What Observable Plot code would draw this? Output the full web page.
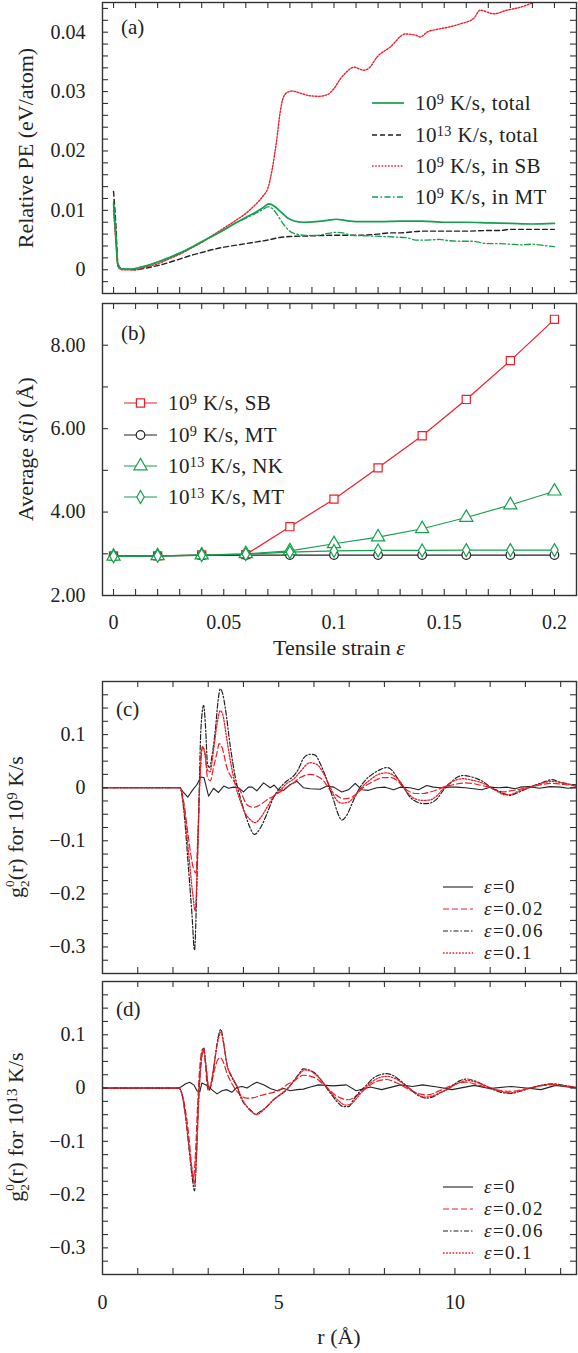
<!DOCTYPE html>
<html><head><meta charset="utf-8">
<script src="https://cdn.jsdelivr.net/npm/d3@7"></script>
<script src="https://cdn.jsdelivr.net/npm/@observablehq/plot@0.6"></script>
<style>
body{margin:0;background:#fff;}
#root{position:relative;width:578px;height:1353px;overflow:hidden;font-family:"Liberation Serif","Times New Roman",Times,"DejaVu Serif",serif;color:#222;}
.abs{position:absolute;white-space:nowrap;}
.ytitle{position:absolute;white-space:nowrap;transform:translate(-50%,-50%) rotate(-90deg);font-size:22px;line-height:24px;}
sup{font-size:0.68em;vertical-align:0.42em;line-height:0;}
.ss{display:inline-flex;flex-direction:column;font-size:0.6em;line-height:1.15;vertical-align:0.7em;}
</style></head><body><div id="root"></div>
<script>
// ---------------- panel (a): relative PE vs strain ----------------
const pe_total_1e9 = [[0,0.0112],[0.001,0.006],[0.002,0.0008],[0.004,0.0001],[0.008,0.0001],[0.012,0.0004],[0.016,0.0008],[0.02,0.0013],[0.025,0.002],[0.03,0.0028],[0.035,0.0037],[0.04,0.0047],[0.045,0.0057],[0.05,0.0067],[0.055,0.0078],[0.06,0.0088],[0.065,0.0098],[0.068,0.0105],[0.0705,0.0111],[0.073,0.0107],[0.076,0.0097],[0.079,0.0087],[0.082,0.0082],[0.086,0.0080],[0.092,0.0081],[0.097,0.0083],[0.101,0.0085],[0.105,0.0083],[0.11,0.0081],[0.12,0.0081],[0.13,0.0082],[0.14,0.0082],[0.15,0.0080],[0.16,0.0080],[0.17,0.0079],[0.18,0.0078],[0.19,0.0077],[0.2,0.0078]];
const pe_total_1e13 = [[0,0.0132],[0.001,0.008],[0.002,0.001],[0.004,0.0001],[0.01,0.0],[0.015,0.0003],[0.02,0.0007],[0.025,0.0012],[0.03,0.0018],[0.035,0.0024],[0.04,0.0029],[0.045,0.0034],[0.05,0.0038],[0.055,0.0041],[0.06,0.0044],[0.065,0.0047],[0.07,0.0050],[0.075,0.0054],[0.08,0.0056],[0.09,0.0057],[0.1,0.0058],[0.11,0.0058],[0.12,0.0060],[0.125,0.0062],[0.13,0.0062],[0.14,0.0065],[0.15,0.0065],[0.16,0.0065],[0.17,0.0066],[0.175,0.0066],[0.18,0.0068],[0.19,0.0068],[0.2,0.0068]];
const pe_sb_1e9 = [[0,0.0100],[0.001,0.005],[0.002,0.0005],[0.004,0.0],[0.01,0.0],[0.015,0.0005],[0.02,0.001],[0.025,0.0018],[0.03,0.0026],[0.035,0.0036],[0.04,0.0046],[0.045,0.0058],[0.05,0.0070],[0.055,0.0082],[0.06,0.0095],[0.065,0.0112],[0.068,0.0125],[0.070,0.0137],[0.072,0.0170],[0.074,0.0218],[0.0755,0.0263],[0.077,0.0290],[0.079,0.0299],[0.081,0.0301],[0.085,0.0297],[0.089,0.0293],[0.093,0.0292],[0.097,0.0295],[0.1,0.0305],[0.103,0.0322],[0.106,0.0334],[0.109,0.0341],[0.1135,0.0336],[0.116,0.0340],[0.1195,0.0358],[0.1255,0.0375],[0.1324,0.0397],[0.137,0.0395],[0.1392,0.0392],[0.1422,0.0400],[0.147,0.0405],[0.1512,0.0408],[0.1573,0.0414],[0.1633,0.0423],[0.1663,0.0437],[0.1724,0.0431],[0.1784,0.0437],[0.1845,0.0442],[0.1905,0.0450],[0.195,0.0456],[0.2,0.0462]];
const pe_mt_1e9 = [[0,0.0115],[0.001,0.006],[0.002,0.0008],[0.004,0.0001],[0.008,0.0001],[0.012,0.0004],[0.016,0.0008],[0.02,0.0013],[0.025,0.002],[0.03,0.0028],[0.035,0.0037],[0.04,0.0047],[0.045,0.0057],[0.05,0.0067],[0.055,0.0078],[0.06,0.0087],[0.065,0.0096],[0.068,0.0102],[0.070,0.0106],[0.072,0.0103],[0.074,0.0094],[0.077,0.0077],[0.080,0.0065],[0.083,0.0060],[0.087,0.0058],[0.092,0.0058],[0.097,0.0061],[0.101,0.0063],[0.104,0.0062],[0.108,0.0058],[0.115,0.0057],[0.122,0.0056],[0.128,0.0055],[0.133,0.0054],[0.137,0.0050],[0.142,0.0050],[0.148,0.0051],[0.152,0.0049],[0.158,0.0048],[0.163,0.0048],[0.166,0.0046],[0.17,0.0044],[0.175,0.0044],[0.18,0.0043],[0.185,0.0042],[0.19,0.0043],[0.195,0.0041],[0.2,0.0039]];

// ---------------- panel (b): average s(i) vs strain ----------------
const strain_b = [0, 0.02, 0.04, 0.06, 0.08, 0.1, 0.12, 0.14, 0.16, 0.18, 0.2];
const s_sb_1e9  = [2.95, 2.95, 2.97, 2.98, 3.65, 4.31, 5.06, 5.83, 6.70, 7.63, 8.62];
const s_mt_1e9  = [2.94, 2.95, 2.96, 2.97, 2.97, 2.97, 2.97, 2.97, 2.97, 2.97, 2.97];
const s_nk_1e13 = [2.94, 2.95, 2.97, 3.00, 3.07, 3.24, 3.40, 3.60, 3.87, 4.17, 4.50];
const s_mt_1e13 = [2.94, 2.95, 2.97, 2.99, 3.04, 3.07, 3.08, 3.08, 3.09, 3.09, 3.09];

// ---------------- panel (c): g2^0(r), 10^9 K/s ----------------
const c_eps0 = [[0,0],[2.2,0],[2.3,-0.009],[2.42,-0.018],[2.54,-0.006],[2.68,0.006],[2.79,0.020],[2.88,0.019],[3.01,-0.016],[3.15,-0.001],[3.29,-0.009],[3.44,0.003],[3.58,-0.001],[3.72,0.001],[3.86,0],[4.0,-0.008],[4.14,0.001],[4.25,0.001],[4.38,-0.006],[4.57,0.009],[4.76,0],[4.87,0.005],[4.99,-0.004],[5.14,-0.005],[5.33,0.006],[5.52,0.012],[5.70,0],[5.89,-0.002],[6.18,-0.003],[6.37,0.003],[6.56,0.001],[6.79,-0.008],[6.98,-0.004],[7.17,0.008],[7.36,-0.004],[7.55,-0.005],[7.78,0],[8.02,0.001],[8.26,-0.004],[8.45,0.001],[8.73,0],[8.97,-0.004],[9.20,0.004],[9.39,0.001],[9.58,0],[9.82,0.001],[10.05,0.001],[10.29,0],[10.53,-0.002],[10.76,-0.004],[11.0,0.001],[11.24,0],[11.47,0.001],[11.71,-0.002],[11.85,0.001],[12.1,0.002],[12.4,-0.001],[12.7,0.002],[13.0,0.001],[13.2,-0.001],[13.45,0]];
const c_eps002 = [[0,0],[2.2,0],[2.30,-0.025],[2.44,-0.095],[2.58,-0.152],[2.65,-0.161],[2.71,-0.082],[2.77,0.025],[2.84,0.076],[2.90,0.069],[2.98,0.019],[3.06,0.013],[3.15,0.038],[3.25,0.066],[3.31,0.083],[3.39,0.076],[3.53,0.038],[3.72,0.013],[3.91,-0.006],[4.10,-0.032],[4.29,-0.037],[4.48,-0.032],[4.66,-0.023],[4.85,-0.016],[5.04,-0.008],[5.23,0.001],[5.42,0.009],[5.61,0.019],[5.89,0.025],[6.08,0.022],[6.27,0.013],[6.46,-0.005],[6.65,-0.0145],[6.84,-0.021],[7.03,-0.019],[7.22,-0.011],[7.41,0.001],[7.60,0.009],[7.78,0.015],[7.97,0.019],[8.16,0.019],[8.35,0.014],[8.54,0.001],[8.73,-0.008],[8.92,-0.011],[9.11,-0.011],[9.30,-0.008],[9.49,-0.004],[9.67,0.001],[9.86,0.004],[10.05,0.007],[10.3,0.009],[10.5,0.008],[10.7,0.005],[10.9,0.002],[11.19,-0.005],[11.38,-0.008],[11.57,-0.006],[11.76,-0.004],[12.2,0.002],[12.75,0.008],[13.1,0.006],[13.45,0.003]];
const c_eps006 = [[0,0],[2.2,0],[2.30,-0.038],[2.44,-0.152],[2.54,-0.240],[2.61,-0.306],[2.68,-0.177],[2.73,-0.05],[2.79,0.107],[2.87,0.155],[2.93,0.107],[2.98,0.044],[3.04,0.038],[3.10,0.057],[3.20,0.107],[3.28,0.164],[3.34,0.186],[3.41,0.177],[3.48,0.152],[3.63,0.076],[3.77,0.019],[3.91,-0.019],[4.05,-0.050],[4.19,-0.076],[4.31,-0.088],[4.48,-0.076],[4.66,-0.050],[4.85,-0.019],[5.04,0],[5.23,0.0126],[5.42,0.022],[5.56,0.035],[5.70,0.055],[5.89,0.063],[6.04,0.061],[6.18,0.045],[6.37,0.014],[6.56,-0.024],[6.70,-0.052],[6.79,-0.061],[6.93,-0.052],[7.12,-0.024],[7.31,0.001],[7.50,0.017],[7.69,0.027],[7.88,0.034],[8.07,0.038],[8.21,0.033],[8.35,0.020],[8.54,0.001],[8.73,-0.018],[8.92,-0.027],[9.11,-0.030],[9.30,-0.029],[9.49,-0.021],[9.67,-0.005],[9.86,0.008],[10.05,0.019],[10.24,0.023],[10.43,0.021],[10.62,0.017],[10.81,0.011],[11.0,0.001],[11.19,-0.005],[11.38,-0.011],[11.57,-0.0145],[11.76,-0.010],[12.2,0.003],[12.5,0.010],[12.75,0.015],[13.0,0.010],[13.45,0.005]];
const c_eps01 = [[0,0],[2.2,0],[2.30,-0.03],[2.44,-0.12],[2.56,-0.20],[2.63,-0.232],[2.70,-0.12],[2.76,0.01],[2.84,0.078],[2.90,0.065],[2.98,0.033],[3.05,0.030],[3.15,0.070],[3.25,0.120],[3.34,0.145],[3.41,0.138],[3.53,0.090],[3.63,0.050],[3.77,0.005],[3.91,-0.025],[4.05,-0.048],[4.19,-0.060],[4.33,-0.066],[4.48,-0.057],[4.66,-0.038],[4.85,-0.017],[5.04,-0.005],[5.23,0.008],[5.42,0.016],[5.61,0.030],[5.89,0.047],[6.08,0.044],[6.27,0.027],[6.46,0.001],[6.65,-0.024],[6.79,-0.029],[6.98,-0.027],[7.17,-0.015],[7.36,0.001],[7.60,0.015],[7.83,0.025],[8.07,0.028],[8.26,0.023],[8.45,0.011],[8.64,-0.008],[8.87,-0.021],[9.11,-0.024],[9.30,-0.023],[9.49,-0.015],[9.67,-0.002],[9.86,0.009],[10.05,0.015],[10.24,0.017],[10.43,0.015],[10.62,0.012],[10.81,0.008],[11.0,0.001],[11.19,-0.006],[11.38,-0.013],[11.57,-0.013],[11.76,-0.008],[12.2,0.002],[12.75,0.012],[13.1,0.008],[13.45,0.003]];

// ---------------- panel (d): g2^0(r), 10^13 K/s ----------------
const d_eps0 = [[0,0],[2.16,0],[2.25,0.003],[2.35,0.0076],[2.47,0.011],[2.59,0.006],[2.68,-0.005],[2.76,-0.0076],[2.82,0.0095],[2.92,0.006],[3.01,0.003],[3.10,-0.003],[3.25,-0.011],[3.39,-0.005],[3.53,-0.003],[3.67,-0.008],[3.81,0.001],[3.96,0.003],[4.10,0],[4.24,0.006],[4.38,0.011],[4.57,0.006],[4.76,-0.001],[4.95,-0.005],[5.14,-0.001],[5.33,-0.005],[5.52,-0.003],[5.7,-0.002],[5.9,0.002],[6.13,0.006],[6.55,0.004],[6.92,0.006],[7.2,-0.005],[7.6,0.002],[7.92,-0.003],[8.45,0.006],[8.8,0.003],[9.08,0.006],[9.5,0.002],[9.92,-0.003],[10.55,0.005],[10.97,-0.001],[11.6,0.003],[12.02,0],[12.44,-0.003],[12.86,0.005],[13.45,0]];
const d_eps002 = [[0,0],[2.16,0],[2.25,-0.01],[2.35,-0.04],[2.45,-0.09],[2.52,-0.14],[2.58,-0.17],[2.64,-0.12],[2.70,-0.03],[2.76,0.04],[2.84,0.072],[2.90,0.06],[2.96,0.01],[3.01,-0.006],[3.08,0.005],[3.18,0.035],[3.27,0.053],[3.34,0.057],[3.42,0.05],[3.53,0.028],[3.72,0.003],[3.91,-0.013],[4.10,-0.019],[4.29,-0.018],[4.48,-0.014],[4.66,-0.011],[4.85,-0.008],[5.04,-0.003],[5.23,0.006],[5.42,0.013],[5.71,0.024],[6.0,0.02],[6.3,0.005],[6.6,-0.013],[6.97,-0.022],[7.3,-0.01],[7.7,0.01],[8.05,0.016],[8.4,0.008],[8.8,-0.006],[9.2,-0.013],[9.6,-0.004],[9.95,0.006],[10.3,0.011],[10.7,0.005],[11.2,-0.004],[11.6,-0.006],[12.1,0],[12.75,0.006],[13.1,0.004],[13.45,0.001]];
const d_eps006 = [[0,0],[2.16,0],[2.25,-0.01],[2.35,-0.05],[2.45,-0.11],[2.55,-0.17],[2.61,-0.193],[2.67,-0.12],[2.73,-0.02],[2.80,0.05],[2.87,0.076],[2.93,0.045],[3.02,-0.003],[3.09,0.01],[3.18,0.05],[3.28,0.095],[3.36,0.11],[3.43,0.088],[3.53,0.045],[3.67,0.02],[3.81,0.003],[3.96,-0.023],[4.10,-0.035],[4.24,-0.044],[4.34,-0.049],[4.48,-0.044],[4.66,-0.035],[4.85,-0.022],[5.04,-0.013],[5.23,-0.003],[5.42,0.013],[5.56,0.025],[5.70,0.036],[5.89,0.033],[6.08,0.025],[6.27,0.009],[6.46,-0.009],[6.65,-0.025],[6.84,-0.035],[6.98,-0.035],[7.12,-0.022],[7.31,-0.006],[7.50,0.006],[7.69,0.019],[7.88,0.025],[8.07,0.027],[8.26,0.023],[8.45,0.014],[8.64,0.003],[8.83,-0.008],[9.02,-0.016],[9.2,-0.019],[9.39,-0.016],[9.58,-0.009],[9.77,-0.003],[9.96,0.006],[10.15,0.014],[10.34,0.017],[10.53,0.014],[10.72,0.009],[10.9,0.003],[11.1,-0.003],[11.3,-0.008],[11.6,-0.010],[11.8,-0.007],[12.2,0.001],[12.75,0.008],[13.1,0.005],[13.45,0.001]];
const d_eps01 = [[0,0],[2.16,0],[2.25,-0.01],[2.35,-0.05],[2.45,-0.105],[2.55,-0.16],[2.61,-0.18],[2.67,-0.12],[2.73,-0.02],[2.80,0.05],[2.87,0.074],[2.93,0.045],[3.02,0.0],[3.09,0.012],[3.18,0.05],[3.28,0.09],[3.36,0.105],[3.43,0.085],[3.53,0.045],[3.67,0.022],[3.81,0.005],[3.96,-0.02],[4.10,-0.035],[4.24,-0.045],[4.38,-0.05],[4.52,-0.044],[4.66,-0.035],[4.85,-0.022],[5.04,-0.012],[5.23,-0.002],[5.42,0.012],[5.56,0.024],[5.75,0.034],[5.93,0.031],[6.1,0.022],[6.3,0.007],[6.5,-0.01],[6.7,-0.024],[6.9,-0.032],[7.05,-0.030],[7.2,-0.02],[7.4,-0.004],[7.6,0.009],[7.8,0.018],[8.05,0.022],[8.3,0.018],[8.5,0.01],[8.7,0],[8.9,-0.01],[9.15,-0.017],[9.35,-0.015],[9.6,-0.008],[9.8,-0.002],[10.0,0.006],[10.2,0.012],[10.4,0.014],[10.6,0.011],[10.8,0.006],[11.0,0.001],[11.3,-0.006],[11.6,-0.009],[11.8,-0.006],[12.2,0.001],[12.75,0.007],[13.1,0.004],[13.45,0.001]];

// ---------------- ticks and labels ----------------
const ticks_strain = [0,0.01,0.02,0.03,0.04,0.05,0.06,0.07,0.08,0.09,0.1,0.11,0.12,0.13,0.14,0.15,0.16,0.17,0.18,0.19,0.2];
const labels_strain = [0, 0.05, 0.1, 0.15, 0.2];
const ticks_pe = [-0.002,0,0.002,0.004,0.006,0.008,0.01,0.012,0.014,0.016,0.018,0.02,0.022,0.024,0.026,0.028,0.03,0.032,0.034,0.036,0.038,0.04,0.042,0.044];
const labels_pe = [0, 0.01, 0.02, 0.03, 0.04];
const ticks_s = [3, 4, 5, 6, 7, 8];
const labels_s = [2, 4, 6, 8];
const ticks_r = [1,2,3,4,5,6,7,8,9,10,11,12,13];
const labels_r = [0, 5, 10];
const ticks_g = [-0.325,-0.3,-0.275,-0.25,-0.225,-0.2,-0.175,-0.15,-0.125,-0.1,-0.075,-0.05,-0.025,0,0.025,0.05,0.075,0.1,0.125,0.15,0.175];
const labels_g = [-0.3, -0.2, -0.1, 0, 0.1];

const INK = "#222", FRAME = "#333", RED = "#f01e28", GREEN = "#14a04c";
const SERIF = '"Liberation Serif", "Times New Roman", Times, "DejaVu Serif", serif';
const root = document.getElementById("root");
const W = 578, ML = 102, MR = 2;

function panel({top, height, mt, mb, xDomain, yDomain, xTicks, yTicks, xLabels, yLabels, xFmt, yFmt, xPad, marks}) {
  const innerW = W - ML - MR, innerH = height - mt - mb, tk = 6;
  const ts = {stroke: FRAME, strokeWidth: 1.1};
  const m = [
    ...marks,
    Plot.ruleX(xTicks, {x: d => d, insetTop: innerH - tk, ...ts}),
    Plot.ruleX(xTicks, {x: d => d, insetBottom: innerH - tk, ...ts}),
    Plot.ruleY(yTicks, {y: d => d, insetRight: innerW - tk, ...ts}),
    Plot.ruleY(yTicks, {y: d => d, insetLeft: innerW - tk, ...ts}),
    Plot.frame({stroke: FRAME, strokeWidth: 1.4}),
    Plot.axisY(yLabels, {tickSize: 0, tickPadding: 17, tickFormat: yFmt, label: null, fontSize: 20, fill: INK})
  ];
  if (xLabels) m.push(Plot.axisX(xLabels, {tickSize: 0, tickPadding: xPad, tickFormat: xFmt, label: null, fontSize: 20, fill: INK}));
  const svg = Plot.plot({
    width: W, height, marginLeft: ML, marginRight: MR, marginTop: mt, marginBottom: mb,
    x: {domain: xDomain, axis: xLabels ? undefined : null},
    y: {domain: yDomain},
    style: {fontFamily: SERIF, fontSize: "20px", background: "transparent", overflow: "visible"},
    marks: m
  });
  svg.style.position = "absolute";
  svg.style.left = "0px";
  svg.style.top = top + "px";
  root.appendChild(svg);
}

const pxy = {x: d => d[0], y: d => d[1], curve: "monotone-x", clip: true};
const fmtPlain = d => d === 0 ? "0" : String(d);
const fmtG = d => d === 0 ? "0" : (d < 0 ? "\u2212" : "") + String(Math.abs(d));

// (a)
panel({
  top: 0, height: 300, mt: 2, mb: 7,
  xDomain: [-0.005, 0.21], yDomain: [-0.004, 0.045],
  xTicks: ticks_strain, yTicks: ticks_pe, yLabels: labels_pe, yFmt: fmtPlain,
  marks: [
    Plot.line(pe_total_1e13, {...pxy, stroke: INK, strokeWidth: 1.4, strokeDasharray: "5,3"}),
    Plot.line(pe_mt_1e9, {...pxy, stroke: GREEN, strokeWidth: 1.3, strokeDasharray: "6,2.5,1.5,2.5"}),
    Plot.line(pe_sb_1e9, {...pxy, stroke: RED, strokeWidth: 1.4, strokeDasharray: "1.6,1.6"}),
    Plot.line(pe_total_1e9, {...pxy, stroke: GREEN, strokeWidth: 1.7})
  ]
});

// (b)
const tb = arr => strain_b.map((s, i) => ({s, v: arr[i]}));
const bSeries = [
  {data: tb(s_sb_1e9), stroke: RED, symbol: "square", r: 4.6},
  {data: tb(s_mt_1e9), stroke: INK, symbol: "circle", r: 4.3},
  {data: tb(s_nk_1e13), stroke: GREEN, symbol: "triangle", r: 4.9},
  {data: tb(s_mt_1e13), stroke: GREEN, symbol: "diamond", r: 3.9}
];
const bMarks = [];
for (const b of bSeries) {
  bMarks.push(Plot.line(b.data, {x: "s", y: "v", stroke: b.stroke, strokeWidth: 1.2}));
  bMarks.push(Plot.dot(b.data, {x: "s", y: "v", symbol: b.symbol, r: b.r, stroke: b.stroke, fill: "white", strokeWidth: 1.2}));
}
panel({
  top: 300, height: 340, mt: 3, mb: 45,
  xDomain: [-0.005, 0.21], yDomain: [2, 9],
  xTicks: ticks_strain, yTicks: ticks_s, xLabels: labels_strain, xFmt: fmtPlain, xPad: 19,
  yLabels: labels_s, yFmt: d => d.toFixed(2),
  marks: bMarks
});

// (c) and (d)
function gMarks(e0, e002, e006, e01) {
  return [
    Plot.line(e0, {...pxy, curve: "linear", stroke: INK, strokeWidth: 1.1}),
    Plot.line(e002, {...pxy, stroke: RED, strokeWidth: 1.2, strokeDasharray: "6,3"}),
    Plot.line(e006, {...pxy, stroke: INK, strokeWidth: 1.2, strokeDasharray: "5,2,1.5,2"}),
    Plot.line(e01, {...pxy, stroke: RED, strokeWidth: 1.3, strokeDasharray: "1.6,1.6"})
  ];
}
panel({
  top: 670, height: 310, mt: 11, mb: 7,
  xDomain: [0, 13.45], yDomain: [-0.35, 0.2],
  xTicks: ticks_r, yTicks: ticks_g, yLabels: labels_g, yFmt: fmtG,
  marks: gMarks(c_eps0, c_eps002, c_eps006, c_eps01)
});
panel({
  top: 975, height: 340, mt: 6, mb: 41,
  xDomain: [0, 13.45], yDomain: [-0.35, 0.2],
  xTicks: ticks_r, yTicks: ticks_g, xLabels: labels_r, xFmt: fmtPlain, xPad: 20,
  yLabels: labels_g, yFmt: fmtG,
  marks: gMarks(d_eps0, d_eps002, d_eps006, d_eps01)
});

// ---------------- text: titles, panel tags ----------------
function addText(html, left, cy, size, lh) {
  lh = lh || 24;
  const d = document.createElement("div");
  d.className = "abs";
  d.innerHTML = html;
  d.style.left = left + "px";
  d.style.top = (cy - lh / 2) + "px";
  d.style.fontSize = size + "px";
  d.style.lineHeight = lh + "px";
  root.appendChild(d);
  return d;
}
function yTitle(html, cx, cy) {
  const d = document.createElement("div");
  d.className = "ytitle";
  d.innerHTML = html;
  d.style.left = cx + "px";
  d.style.top = cy + "px";
  root.appendChild(d);
}
function xTitle(html, cx, cy) {
  const d = addText(html, cx, cy, 22);
  d.style.transform = "translateX(-50%)";
}
yTitle("Relative PE (eV/atom)", 26, 147.5);
yTitle("Average <i>s</i>(<i>i</i>) (Å)", 26, 449);
yTitle('g<span class="ss"><span>0</span><span>2</span></span>(r) for 10<sup>9</sup> K/s', 17, 826.7);
yTitle('g<span class="ss"><span>0</span><span>2</span></span>(r) for 10<sup>13</sup> K/s', 17, 1127);
xTitle("Tensile strain <i>ε</i>", 339, 648);
xTitle("r (Å)", 339, 1337);

addText("(a)", 121, 26.7, 21);
addText("(b)", 121, 333, 21);
addText("(c)", 116, 709, 21);
addText("(d)", 116, 1009, 21);

// ---------------- legends ----------------
function legend(rows, x0, w, tx, size, ls, lh) {
  for (const r of rows) {
    const svg = d3.select(root).append("svg").attr("class", "abs")
      .attr("width", w + 20).attr("height", 20)
      .style("left", (x0 - 10) + "px").style("top", (r.y - 10) + "px").style("overflow", "visible");
    svg.append("line").attr("x1", 10).attr("x2", 10 + w).attr("y1", 10).attr("y2", 10)
      .attr("stroke", r.stroke).attr("stroke-width", r.sw).attr("stroke-dasharray", r.dash || null);
    if (r.symbol) {
      svg.append("path").attr("d", d3.symbol(r.symbol, Math.PI * r.r * r.r)())
        .attr("transform", `translate(${10 + w / 2},10)`)
        .attr("fill", "white").attr("stroke", r.stroke).attr("stroke-width", 1.2);
    }
    const t = addText(r.html, tx, r.y, size, lh);
    if (ls) t.style.letterSpacing = ls + "px";
  }
}
legend([
  {y: 103, html: "10<sup>9</sup> K/s, total", stroke: GREEN, sw: 1.7},
  {y: 134.5, html: "10<sup>13</sup> K/s, total", stroke: INK, sw: 1.4, dash: "5,3"},
  {y: 165.5, html: "10<sup>9</sup> K/s, in SB", stroke: RED, sw: 1.4, dash: "1.6,1.6"},
  {y: 196.5, html: "10<sup>9</sup> K/s, in MT", stroke: GREEN, sw: 1.3, dash: "6,2.5,1.5,2.5"}
], 372, 32, 415, 21, 0.4, 24);
legend([
  {y: 403, html: "10<sup>9</sup> K/s, SB", stroke: RED, sw: 1.2, symbol: d3.symbolSquare, r: 4.6},
  {y: 434.5, html: "10<sup>9</sup> K/s, MT", stroke: INK, sw: 1.2, symbol: d3.symbolCircle, r: 4.3},
  {y: 465.5, html: "10<sup>13</sup> K/s, NK", stroke: GREEN, sw: 1.2, symbol: d3.symbolTriangle, r: 4.9},
  {y: 496.5, html: "10<sup>13</sup> K/s, MT", stroke: GREEN, sw: 1.2, symbol: d3.symbolDiamond, r: 3.9}
], 124, 33, 168, 21, 0.4, 24);
const gLegend = y0 => [
  {y: y0, html: "<i>ε</i>=0", stroke: INK, sw: 1.1},
  {y: y0 + 22, html: "<i>ε</i>=0.02", stroke: RED, sw: 1.2, dash: "6,3"},
  {y: y0 + 44, html: "<i>ε</i>=0.06", stroke: INK, sw: 1.2, dash: "5,2,1.5,2"},
  {y: y0 + 66, html: "<i>ε</i>=0.1", stroke: RED, sw: 1.3, dash: "1.6,1.6"}
];
legend(gLegend(886.5), 443, 30, 484, 19, 1.4, 20);
legend(gLegend(1187), 443, 30, 484, 19, 1.4, 20);
</script></body></html>
